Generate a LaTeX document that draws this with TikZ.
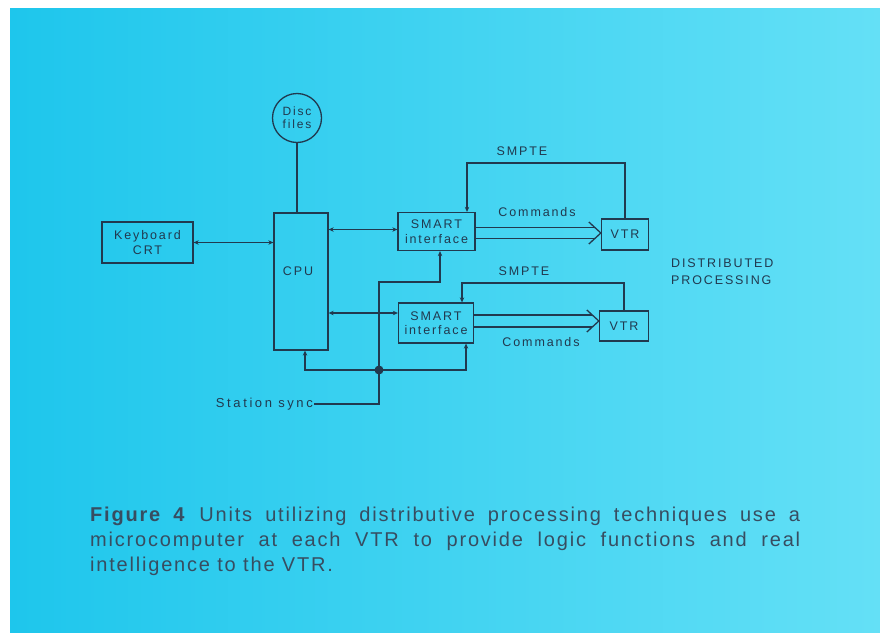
\documentclass[tikz,border=0pt]{standalone}
\usepackage{fontspec}
\setmainfont{Liberation Sans}
\newfontfamily\dfont[LetterSpace=15]{Liberation Sans}
\newfontfamily\syncfont[LetterSpace=20]{Liberation Sans}
\newfontfamily\cfont[LetterSpace=9]{Liberation Sans}
\usetikzlibrary{arrows.meta,calc}
\definecolor{ink}{HTML}{21394F}
\definecolor{bgL}{RGB}{30,198,236}
\definecolor{bgR}{RGB}{100,224,246}
\tikzset{
  ln/.style={draw=ink, line width=1.3pt},
  box/.style={ln, rectangle, inner sep=1pt, align=center, text=ink, font=\dfont\fontsize{12.5}{14.5}\selectfont},
  lbl/.style={text=ink, inner sep=1pt, font=\dfont\fontsize{12.5}{14.5}\selectfont},
  arr/.style={ln, -{Stealth[length=5pt,width=4.5pt]}},
  barr/.style={ln, {Stealth[length=5pt,width=4.5pt]}-{Stealth[length=5pt,width=4.5pt]}},
  chev/.style={ln, line join=miter},
  captext/.style={text=ink!90, inner sep=0pt, anchor=west, font=\cfont\fontsize{20}{22}\selectfont}
}
\begin{document}
\begin{tikzpicture}[x=1pt,y=-1pt]
\useasboundingbox (0,0) rectangle (880,632);
\shade[left color=bgL, right color=bgR] (10,8) rectangle (880,632);

% nodes
\node[box, circle, minimum size=49pt, inner sep=0pt, font=\dfont\fontsize{12}{13}\selectfont] (disc) at (297,118) {Disc\\files};
\node[box, minimum width=91pt, minimum height=41pt] (kb) at (147.5,242.5) {Keyboard\\CRT};
\node[box, minimum width=54pt, minimum height=137pt] (cpu) at (301,281.5) {};
\node[lbl] (cpulbl) at (298,271) {CPU};
\node[box, minimum width=77pt, minimum height=38pt] (s1) at (436.5,231.5) {SMART\\interface};
\node[box, minimum width=75pt, minimum height=40pt] (s2) at (436,323) {SMART\\interface};
\node[box, minimum width=47pt, minimum height=31pt] (v1) at (625,234.5) {VTR};
\node[box, minimum width=49pt, minimum height=30pt] (v2) at (624,326) {VTR};

\node[lbl] (smpte1) at (522,151) {SMPTE};
\node[lbl] (smpte2) at (524,271) {SMPTE};
\node[lbl] (cmd1) at (537,212) {Commands};
\node[lbl] (cmd2) at (541,342) {Commands};
\node[lbl, anchor=north west, align=left, font=\dfont\fontsize{12.5}{17}\selectfont] (dp) at (670,258) {DISTRIBUTED\\PROCESSING};
\node[lbl, anchor=east, font=\syncfont\fontsize{13}{15}\selectfont] (sync) at (314,404) {Station sync};
\coordinate (j) at (379,370);
\coordinate (t1) at (v1.west |- 0,233);
\coordinate (t2) at (v2.west |- 0,321);

% connectors
\draw[ln] (disc.south) -- (disc.south |- cpu.north);
\draw[barr] (kb.east) -- (kb.east -| cpu.west);
\draw[barr] ([yshift=2pt]s1.west) -- ([yshift=2pt]s1.west -| cpu.east);
\draw[barr] ([yshift=10pt]s2.west) -- ([yshift=10pt]s2.west -| cpu.east);

% Commands (hollow double arrows)
\draw[ln] (s1.east |- 0,227.5) -- ([shift={(-6,-5.5)}]t1);
\draw[ln] (s1.east |- 0,238.5) -- ([shift={(-6,5.5)}]t1);
\draw[chev] ([shift={(-12,-11)}]t1) -- (t1) -- ([shift={(-12,11)}]t1);
\draw[ln] (s2.east |- 0,315) -- ([shift={(-6.5,-6)}]t2);
\draw[ln] (s2.east |- 0,327) -- ([shift={(-6.5,6)}]t2);
\draw[chev] ([shift={(-12,-11)}]t2) -- (t2) -- ([shift={(-12,11)}]t2);

% SMPTE loops
\draw[arr] (v1.north) -- (v1.north |- 0,163) -| ([xshift=30.5pt]s1.north);
\draw[arr] (v2.north) -- (v2.north |- 0,283) -| ([xshift=26pt]s2.north);

% station sync
\fill[ink] (j) circle (4.5pt);
\draw[arr] (j) -- (j |- 0,282) -| ([xshift=3.5pt]s1.south);
\draw[arr] (j) -| ([xshift=30pt]s2.south);
\draw[arr] (j) -| ([xshift=4pt]cpu.south);
\draw[ln] (sync.east) -| (j);

% caption
\node[captext] (c1) at (90,516) {\makebox[710pt][s]{\textbf{Figure 4} Units utilizing distributive processing techniques use a}};
\node[captext] (c2) at (90,541) {\makebox[710pt][s]{microcomputer at each VTR to provide logic functions and real}};
\node[captext] (c3) at (90,566) {intelligence to the VTR.};
\end{tikzpicture}
\end{document}
